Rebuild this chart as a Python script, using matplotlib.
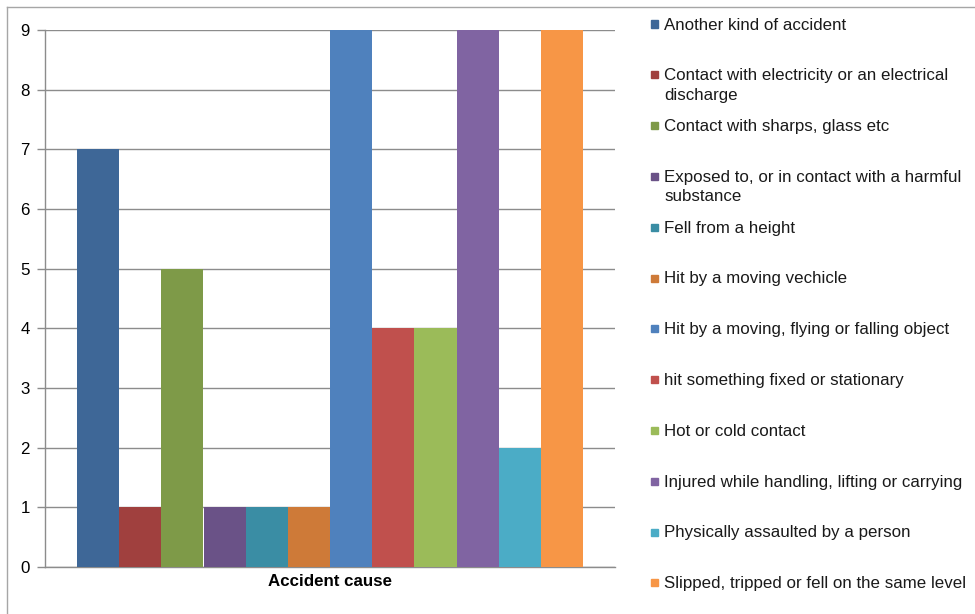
import matplotlib.pyplot as plt
from matplotlib.patches import Rectangle
from matplotlib.lines import Line2D

plt.rcParams['font.family'] = ['Liberation Sans', 'DejaVu Sans']

causes = [
    'Another kind of accident',
    'Contact with electricity or an electrical\ndischarge',
    'Contact with sharps, glass etc',
    'Exposed to, or in contact with a harmful\nsubstance',
    'Fell from a height',
    'Hit by a moving vechicle',
    'Hit by a moving, flying or falling object',
    'hit something fixed or stationary',
    'Hot or cold contact',
    'Injured while handling, lifting or carrying',
    'Physically assaulted by a person',
    'Slipped, tripped or fell on the same level',
]
counts = [7, 1, 5, 1, 1, 1, 9, 4, 4, 9, 2, 9]
colors = ['#3E6797', '#A0403E', '#7E9A48', '#6A5287', '#3A8DA4', '#CE7A38',
          '#4F81BD', '#C0504D', '#9BBB59', '#8064A2', '#4BACC6', '#F79646']
yticks = list(range(0, 10))

W, H = 975, 614
fs = 12.2
fig = plt.figure(figsize=(W / 100, H / 100), dpi=100)
ax = fig.add_axes([45 / W, (H - 567) / H, 570 / W, 537 / H])

# one category, twelve touching bars
n = len(counts)
bw = 1.0 / n
for i, (v, c) in enumerate(zip(counts, colors)):
    ax.bar(-0.5 + bw * (i + 0.5), v, width=bw, color=c, zorder=3)

grp = 570 / 506
ax.set_xlim(-grp / 2, grp / 2)
ax.set_ylim(0, 9)
ax.set_yticks(yticks)
ax.set_xticks([])
ax.yaxis.grid(True, color='#8C8C8C', linewidth=1.0, zorder=0)
for s in ['top', 'right']:
    ax.spines[s].set_visible(False)
for s in ['left', 'bottom']:
    ax.spines[s].set_color('#8C8C8C')
    ax.spines[s].set_linewidth(1.0)
ax.tick_params(axis='y', length=6, width=1.0, color='#8C8C8C',
               labelsize=fs, pad=5)
ax.set_xlabel('Accident cause', fontsize=fs, fontweight='bold', labelpad=5)

# legend drawn on the right, fixed row pitch
y0, step = 24, 50.8
for i, (lab, c) in enumerate(zip(causes, colors)):
    yc = y0 + step * i
    fig.patches.append(Rectangle((651 / W, 1 - (yc + 3.5) / H), 7 / W, 7 / H,
                                 transform=fig.transFigure, color=c))
    fig.text(664 / W, 1 - (yc - 6.5) / H, lab, fontsize=fs, va='top',
             ha='left', linespacing=1.35, color='#1A1A1A')

# outer chart frame
fig.add_artist(Line2D([7 / W, 7 / W], [0, 1 - 7 / H], color='#A6A6A6', lw=1))
fig.add_artist(Line2D([7 / W, 1], [1 - 7 / H, 1 - 7 / H], color='#A6A6A6', lw=1))

fig.savefig('out.png', dpi=100)
